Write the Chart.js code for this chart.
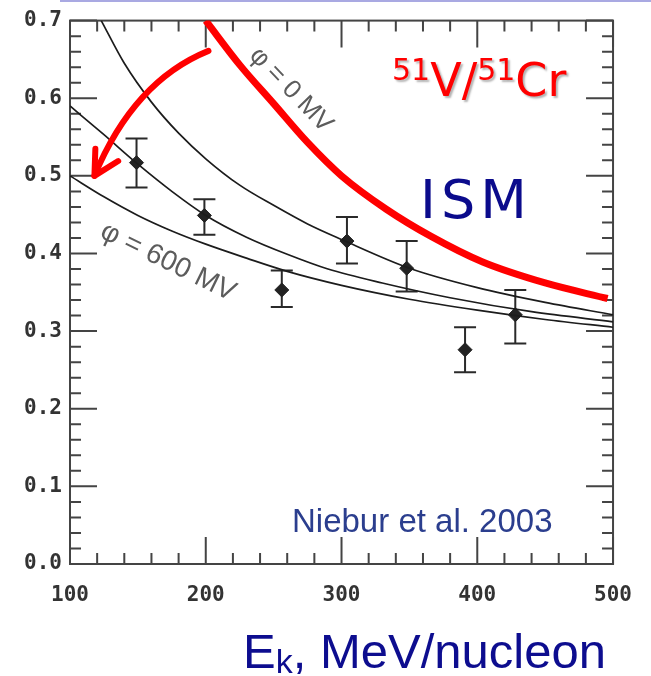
<!DOCTYPE html>
<html lang="en">
<head>
<meta charset="UTF-8">
<title>51V/51Cr ratio</title>
<script src="https://cdn.jsdelivr.net/npm/chart.js"></script>
<style>
  html, body { margin: 0; padding: 0; background: #fff; }
  #wrap { position: relative; width: 651px; height: 676px; }
  #wrap canvas { position: absolute; left: 0; top: 0; }
  #topline { position: absolute; left: 60px; top: 0; width: 591px; height: 2px; background: #a9a9e2; }
</style>
</head>
<body>
<div id="wrap">
  <canvas id="chart" width="651" height="676"></canvas>
  <div id="topline"></div>
</div>
<script>
// measured points: energy (MeV/nucleon), ratio and error bar ends
const pointE     = [149, 199, 256, 304, 348, 391, 428];
const pointRatio = [0.517, 0.449, 0.353, 0.416, 0.381, 0.276, 0.321];
const pointLow   = [0.485, 0.424, 0.331, 0.387, 0.351, 0.247, 0.284];
const pointHigh  = [0.548, 0.470, 0.378, 0.447, 0.416, 0.305, 0.353];

// modulated model curves
const phi0E = [123, 140, 160, 180, 200, 225, 250, 275, 300, 350, 400, 450, 500];
const phi0R = [0.700, 0.645, 0.595, 0.555, 0.522, 0.488, 0.462, 0.438, 0.418, 0.381, 0.356, 0.337, 0.321];
const midE  = [100, 125, 150, 175, 200, 230, 260, 290, 330, 380, 440, 500];
const midR  = [0.590, 0.553, 0.515, 0.480, 0.449, 0.421, 0.399, 0.380, 0.362, 0.343, 0.325, 0.312];
const phi600E = [100, 125, 150, 175, 200, 230, 260, 300, 350, 400, 450, 500];
const phi600R = [0.500, 0.473, 0.449, 0.429, 0.412, 0.394, 0.377, 0.359, 0.341, 0.327, 0.315, 0.305];

// hand drawn ISM curve
const ismE = [200, 225, 250, 275, 300, 333, 366, 404, 450, 496];
const ismR = [0.700, 0.643, 0.593, 0.543, 0.500, 0.457, 0.422, 0.389, 0.362, 0.342];

// arrow: start, bend, tip (in E, ratio)
const arrowE = [202, 147, 118];
const arrowR = [0.661, 0.622, 0.500];

const toXY = (xs, ys) => xs.map((x, i) => ({ x, y: ys[i] }));

const curveStyle = {
    showLine: true, borderColor: '#1c1c1c', borderWidth: 1.7, pointRadius: 0,
    cubicInterpolationMode: 'monotone', fill: false
};

const frame = {
    id: 'frame',
    beforeDatasetsDraw(chart) {
        const { ctx, chartArea: a, scales: { x, y } } = chart;
        ctx.save();
        ctx.strokeStyle = '#444';
        ctx.lineWidth = 2;
        ctx.beginPath();
        for (let v = 100; v <= 500; v += 20) {
            const px = x.getPixelForValue(v);
            const len = v % 100 === 0 ? 27 : 11;
            ctx.moveTo(px, a.bottom); ctx.lineTo(px, a.bottom - len);
            ctx.moveTo(px, a.top); ctx.lineTo(px, a.top + len);
        }
        for (let i = 0; i <= 35; i++) {
            const py = y.getPixelForValue(i * 0.02);
            const len = i % 5 === 0 ? 27 : 11;
            ctx.moveTo(a.left, py); ctx.lineTo(a.left + len, py);
            ctx.moveTo(a.right, py); ctx.lineTo(a.right - len, py);
        }
        ctx.stroke();
        ctx.strokeRect(a.left, a.top, a.right - a.left, a.bottom - a.top);

        // error bars
        ctx.strokeStyle = '#2a2a2a';
        ctx.lineWidth = 2;
        ctx.beginPath();
        pointE.forEach((e, i) => {
            const px = x.getPixelForValue(e);
            const top = y.getPixelForValue(pointHigh[i]);
            const bot = y.getPixelForValue(pointLow[i]);
            ctx.moveTo(px, top); ctx.lineTo(px, bot);
            ctx.moveTo(px - 11, top); ctx.lineTo(px + 11, top);
            ctx.moveTo(px - 11, bot); ctx.lineTo(px + 11, bot);
        });
        ctx.stroke();
        ctx.restore();
    },
    afterDatasetsDraw(chart) {
        const { ctx, scales: { x, y } } = chart;
        ctx.save();

        // red arrow
        const p = arrowE.map((e, i) => [x.getPixelForValue(e), y.getPixelForValue(arrowR[i])]);
        ctx.strokeStyle = '#ff0000';
        ctx.lineWidth = 6;
        ctx.lineCap = 'round';
        ctx.lineJoin = 'round';
        ctx.beginPath();
        ctx.moveTo(p[0][0], p[0][1]);
        ctx.quadraticCurveTo(p[1][0], p[1][1], p[2][0], p[2][1]);
        ctx.stroke();
        const back = Math.atan2(p[1][1] - p[2][1], p[1][0] - p[2][0]);
        ctx.beginPath();
        ctx.moveTo(p[2][0] + 27 * Math.cos(back - 0.36), p[2][1] + 27 * Math.sin(back - 0.36));
        ctx.lineTo(p[2][0], p[2][1]);
        ctx.lineTo(p[2][0] + 28 * Math.cos(back + 0.62), p[2][1] + 28 * Math.sin(back + 0.62));
        ctx.stroke();

        // curve labels
        ctx.fillStyle = '#5c5c5c';
        ctx.textAlign = 'center';
        ctx.textBaseline = 'middle';
        ctx.font = '26px "Liberation Sans", Arial, sans-serif';
        ctx.save();
        ctx.translate(291, 90);
        ctx.rotate(46 * Math.PI / 180);
        ctx.fillText('\u03c6 = 0 MV', 0, 0);
        ctx.restore();
        ctx.font = '28px "Liberation Sans", Arial, sans-serif';
        ctx.save();
        ctx.translate(168, 262);
        ctx.rotate(26 * Math.PI / 180);
        ctx.fillText('\u03c6 = 600 MV', 0, 0);
        ctx.restore();

        // ratio title
        ctx.textAlign = 'left';
        ctx.textBaseline = 'alphabetic';
        ctx.fillStyle = '#ff0000';
        ctx.shadowColor = 'rgba(0,0,0,0.3)';
        ctx.shadowOffsetX = 2;
        ctx.shadowOffsetY = 2;
        ctx.shadowBlur = 2;
        let cx = 392;
        const parts = [['51', 30, 80], ['V/', 46, 96], ['51', 30, 80], ['Cr', 46, 96]];
        parts.forEach(([t, size, base]) => {
            ctx.font = size + 'px "Comic Sans MS", "DejaVu Sans", sans-serif';
            ctx.fillText(t, cx, base);
            cx += ctx.measureText(t).width;
        });
        ctx.shadowColor = 'transparent';

        // ISM
        ctx.fillStyle = '#0b0b8c';
        ctx.font = '54px "Comic Sans MS", "DejaVu Sans", sans-serif';
        ctx.letterSpacing = '5px';
        ctx.fillText('ISM', 420, 218);
        ctx.letterSpacing = '0px';

        // reference
        ctx.fillStyle = '#2b3e8e';
        ctx.font = '33px "Liberation Sans", Arial, sans-serif';
        ctx.fillText('Niebur et al. 2003', 292, 532);

        // axis title
        ctx.fillStyle = '#0d0d8f';
        ctx.font = '49px "Liberation Sans", Arial, sans-serif';
        let tx = 243;
        ctx.fillText('E', tx, 668);
        tx += ctx.measureText('E').width;
        ctx.font = '34px "Liberation Sans", Arial, sans-serif';
        ctx.fillText('k', tx, 673);
        tx += ctx.measureText('k').width;
        ctx.font = '49px "Liberation Sans", Arial, sans-serif';
        ctx.fillText(', MeV/nucleon', tx, 668);
        ctx.restore();
    }
};

const tickFont = { family: '"DejaVu Sans Mono", monospace', weight: 'bold', size: 21 };

new Chart(document.getElementById('chart'), {
    type: 'scatter',
    data: {
        datasets: [
            { data: toXY(phi0E, phi0R), ...curveStyle },
            { data: toXY(midE, midR), ...curveStyle },
            { data: toXY(phi600E, phi600R), ...curveStyle },
            {
                data: toXY(pointE, pointRatio), pointStyle: 'rectRot', pointRadius: 7,
                backgroundColor: '#222', borderColor: '#222', borderWidth: 1
            },
            {
                data: toXY(ismE, ismR), showLine: true, borderColor: '#ff0000', borderWidth: 7,
                pointRadius: 0, cubicInterpolationMode: 'monotone', borderCapStyle: 'butt'
            }
        ]
    },
    options: {
        responsive: false,
        animation: false,
        devicePixelRatio: 1,
        layout: { padding: { top: 17, right: 32, left: 0, bottom: 0 } },
        plugins: { legend: { display: false }, tooltip: { enabled: false } },
        scales: {
            x: {
                type: 'linear', min: 100, max: 500,
                grid: { display: false, drawTicks: false },
                border: { display: false },
                ticks: { stepSize: 100, padding: 19, color: '#333', font: tickFont, maxRotation: 0 },
                afterFit: s => { s.height = 112; }
            },
            y: {
                min: 0, max: 0.7,
                grid: { display: false, drawTicks: false },
                border: { display: false },
                ticks: { stepSize: 0.1, padding: 8, color: '#333', font: tickFont, callback: v => v.toFixed(1) },
                afterFit: s => { s.width = 70; }
            }
        }
    },
    plugins: [frame]
});
</script>
</body>
</html>
